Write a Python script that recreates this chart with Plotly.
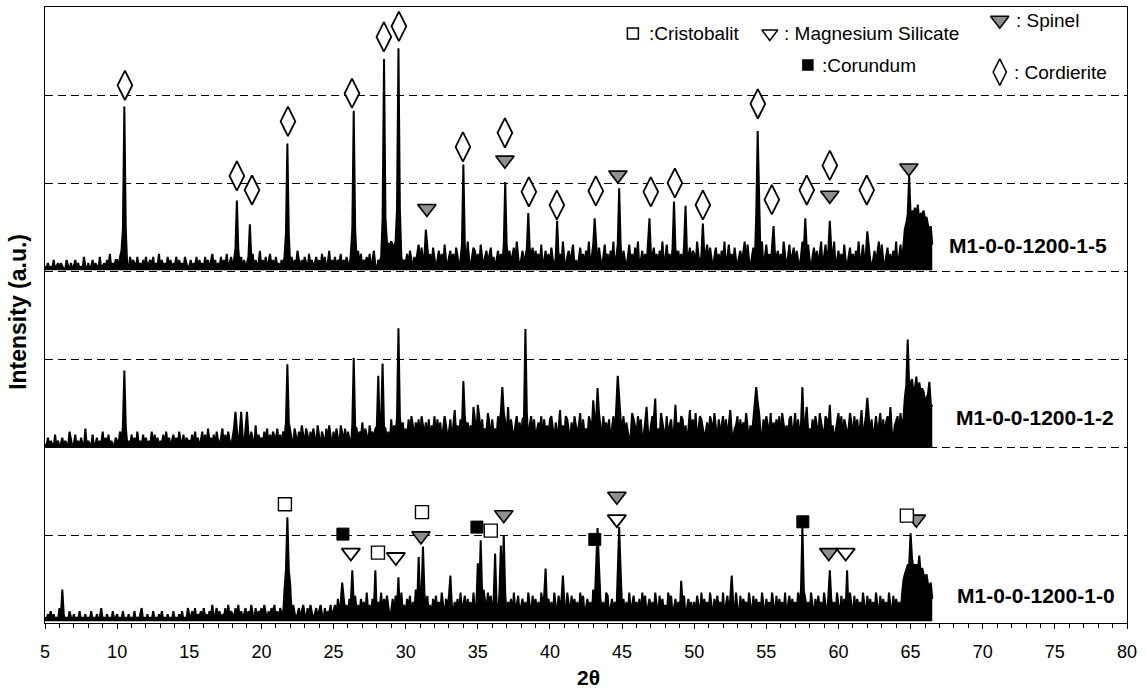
import plotly.graph_objects as go

# ---------------- data ----------------
# 2theta grid step of the noise strings (one character per step), value = base36 digit * NOISE_UNIT
NOISE_STEP = 0.1
NOISE_UNIT = 35

# Trace offsets (a.u.)
offset_top = 4020
offset_mid = 2000
offset_bot = 30

top_noise = {
    5:  "1020103012 0210031020 1302010410 2013021040 1203150213",
    10: "3146302104 1320412031 4023140215 0312041302 1403120420",
    15: "1302140312 0413025130 2140315024 1302614031 2041503126",
    20: "0314025130 4120314025 1403162031 4205130241 3051402613",
    25: "1403250314 2051403615 0324150361 0324158988 9879a0a423",
    30: "2516304258 1730462517 4036251830 4625174036 2519304762",
    35: "5183046257 1403625184 0362571940 3625180472 6351804625",
    40: "1730462519 3046258130 4725163904 6251730482 5163904725",
    45: "1630482517 3904625183 0472516390 4825173046 2518304726",
    50: "5193046258 1730472516 3904825173 0462591830 4725163904",
    55: "8251730462 5193048257 1630492518 3047261590 4825173904",
    60: "6251830472 5163904825 1730462591 8304725163 904829dfhj",
    65: "gjikhlfiijghfce8",
}
mid_noise = {
    5:  "1030210402 0130210520 1402031060 2104013021 5031402103",
    10: "2152403120 4130512041 3021504130 2140513024 1305214032",
    15: "2140513025 1406231405 2136041520 3614052306 1425307142",
    20: "3152604153 2614053172 5306415273 1640526317 4053162740",
    25: "5163074261 5307416253 8164073526 1748306251 9374610583",
    30: "6294a73859 2a64839275 a394826a73 5928c47396 2a58473d92",
    35: "7a49365b82 9463a72958 4d39627a48 3956b27a49 3685a29473",
    40: "9a52846c37 4a95283a64 7b29463a85 2974b63a58 4926a37c49",
    45: "6a38524b97 3a69248d53 7a94263b85 4a27936b48 5a93726c49",
    50: "4b27a96358 3a84b62957 a4938c5267 a39485b627 49a38b5296",
    55: "a74b38596a 2b84739a56 b3947a28d5 6394a72b85 3a96b47258",
    60: "b5a39746b8 2a5947c36a 8b4926a57b 3948a6d527 9a4b69gdji",
    65: "lmijkhlijifghced",
}
bot_noise = {
    5:  "1021302010 41a2010310 2010301020 1030102014 0102010301",
    10: "2010301020 1030102401 0201030102 0301020103 0102030104",
    15: "2031402130 4120315024 1302140513 2041503124 0315204132",
    20: "4152031425 1304215302 4153024135 2041530241 3520413251",
    25: "3517264835 2746183527 4619352748 1639274851 3728461935",
    30: "2748163a52 7469382517 4836295174 8352647193 5827461935",
    35: "8274a63958 2746193a58 2647193582 4736195284 7361958247",
    40: "3619528473 6195284736 1958247361 a582473619 8247361952",
    45: "4726193584 6371958247 3629518473 5196824736 2958147361",
    50: "6285193746 2951738462 9158374629 4183756295 1837462951",
    55: "7463951827 4629158374 6295183746 2951738462 9518374629",
    60: "5183746295 1837462951 8374629518 3746295183 74628dfhii",
    65: "jkhiiglfhfdfcb87",
}

# peaks: (2theta, height above trace baseline, optional neighbour height)
top_peaks = [(10.5, 1850, 450), (18.3, 780, 230), (19.2, 510, 140), (21.8, 1430, 400),
             (26.4, 1800, 450), (28.5, 2390, 570), (29.5, 2510, 680), (31.4, 450, 140),
             (34.0, 1190, 280), (36.9, 990, 280), (38.5, 640, 230), (40.5, 550, 140),
             (43.1, 580, 280), (44.8, 920, 280), (46.9, 580, 170), (48.6, 770, 230),
             (49.4, 720, 170), (50.6, 520, 170), (54.4, 1570, 620), (55.5, 490, 170),
             (57.7, 580, 230), (59.4, 550, 230), (62.0, 430, 170), (64.9, 1060, 620),
             (65.5, 680), (65.9, 660)]
mid_peaks = [(10.5, 870, 230), (18.2, 400, 120), (18.6, 400, 120), (19.0, 400, 120),
             (21.8, 940, 280), (26.4, 1010, 230), (28.1, 810, 230), (28.4, 950, 230),
             (29.5, 1350, 340), (34.0, 750, 170), (35.0, 480), (36.7, 680, 400),
             (38.3, 1340, 340), (40.7, 400), (43.0, 530), (43.3, 670, 300),
             (44.7, 810, 570), (47.3, 550), (48.7, 480), (54.3, 680, 510),
             (57.5, 680, 200), (59.4, 480), (62.0, 560), (64.8, 1220, 700),
             (65.4, 800), (66.3, 740)]
bot_peaks = [(21.8, 1170, 570), (21.6, 350), (22.0, 400), (25.6, 430), (26.3, 570, 200),
             (27.9, 570), (29.5, 490), (30.9, 720), (31.2, 840, 300), (33.1, 510),
             (35.0, 650), (35.2, 910, 300), (36.2, 760), (36.6, 850), (36.8, 970, 300),
             (39.7, 590), (40.9, 510), (43.3, 1050, 620), (44.8, 1060, 570), (49.1, 450),
             (52.6, 510), (57.5, 1060, 340), (59.4, 570), (60.6, 570), (65.0, 990),
             (66.4, 430)]

# phase markers (2theta, y position)
cordierite_theta = [10.54, 18.3, 19.35, 21.84, 26.28, 28.49, 29.53, 33.97, 36.88, 38.54,
                    40.48, 43.18, 46.99, 48.66, 50.6, 54.41, 55.38, 57.8, 59.4, 61.96]
cordierite_y = [6110, 5080, 4920, 5700, 6020, 6660, 6780, 5410, 5570, 4900,
                4750, 4910, 4900, 5000, 4750, 5900, 4810, 4920, 5200, 4920]
spinel_theta = [31.47, 36.88, 44.71, 59.4, 64.88, 31.06, 36.8, 44.64, 59.33, 65.4]
spinel_y = [4710, 5260, 5090, 4860, 5170, 990, 1230, 1440, 800, 1180]
cristobalit_theta = [21.63, 28.08, 31.13, 35.9, 64.74]
cristobalit_y = [1350, 800, 1260, 1050, 1220]
corundum_theta = [25.65, 34.94, 43.11, 57.53]
corundum_y = [1010, 1090, 950, 1150]
mgsi_theta = [26.2, 29.32, 44.64, 60.5]
mgsi_y = [800, 750, 1180, 800]

series_names = ["M1-0-0-1200-1-5", "M1-0-0-1200-1-2", "M1-0-0-1200-1-0"]
x_ticks = [5, 10, 15, 20, 25, 30, 35, 40, 45, 50, 55, 60, 65, 70, 75, 80]

# ---------------- build ----------------
def build(noise, peaks, offset):
    th, val = [], []
    for start in sorted(noise):
        s = noise[start].replace(" ", "")
        for i, c in enumerate(s):
            th.append(round(start + i * NOISE_STEP, 2))
            val.append(int(c, 36) * NOISE_UNIT)
    for p in peaks:
        t, h = p[0], p[1]
        i = min(range(len(th)), key=lambda k: abs(th[k] - t))
        val[i] = max(val[i], h)
        if len(p) > 2:
            for j in (i - 1, i + 1):
                if 0 <= j < len(val):
                    val[j] = max(val[j], p[2])
    return th, [offset + v for v in val]

FONT = "Arial, Liberation Sans, sans-serif"
fig = go.Figure()
for noise, peaks, off in [(top_noise, top_peaks, offset_top),
                          (mid_noise, mid_peaks, offset_mid),
                          (bot_noise, bot_peaks, offset_bot)]:
    x, y = build(noise, peaks, off)
    fig.add_trace(go.Scatter(x=[x[0], x[-1]], y=[off, off], mode="lines",
                             line=dict(color="black", width=2),
                             showlegend=False, hoverinfo="skip"))
    fig.add_trace(go.Scatter(x=x, y=y, mode="lines", line=dict(color="black", width=2),
                             fill="tonexty", fillcolor="black",
                             showlegend=False, hoverinfo="skip"))

def add_markers(xs, ys, symbol, size, fill, lw=1.8):
    fig.add_trace(go.Scatter(x=xs, y=ys, mode="markers", showlegend=False, hoverinfo="skip",
                             marker=dict(symbol=symbol, size=size, color=fill,
                                         line=dict(color="black", width=lw))))

add_markers(cordierite_theta, cordierite_y, "diamond-tall", 21, "white", 1.8)
add_markers(spinel_theta, spinel_y, "triangle-down", 16, "#8e8e8e", 1.6)
add_markers(mgsi_theta, mgsi_y, "triangle-down", 16, "white", 1.8)
add_markers(cristobalit_theta, cristobalit_y, "square", 13, "white", 1.4)
add_markers(corundum_theta, corundum_y, "square", 12, "black", 1)

# legend symbols (decoration, inside the plot area)
legend_items = [
    (45.75, 6700, "square", 11, "white", ":Cristobalit", 46.7),
    (55.24, 6700, "triangle-down", 14, "white", ": Magnesium Silicate", 56.1),
    (71.18, 6850, "triangle-down", 16, "#8e8e8e", ": Spinel", 72.2),
    (57.88, 6340, "square", 10, "black", ":Corundum", 58.7),
    (71.18, 6260, "diamond-tall", 19, "white", ": Cordierite", 72.0),
]
for lx, ly, sym, sz, fill, txt, tx in legend_items:
    add_markers([lx], [ly], sym, sz, fill, 1.5)
    fig.add_annotation(x=tx, y=ly, xref="x", yref="y", text=txt, showarrow=False,
                       xanchor="left", yanchor="middle", font=dict(family=FONT, size=19, color="black"))

label_pos = [(67.5, 4294), (68.0, 2330), (68.06, 318)]
for name, (lx, ly) in zip(series_names, label_pos):
    fig.add_annotation(x=lx, y=ly, xref="x", yref="y", text="<b>" + name + "</b>", showarrow=False,
                       xanchor="left", yanchor="middle", font=dict(family=FONT, size=21, color="black"))

fig.add_annotation(x=-0.025, y=0.505, xref="paper", yref="paper", text="<b>Intensity (a.u.)</b>",
                   textangle=-90, showarrow=False, xanchor="center", yanchor="middle",
                   font=dict(family=FONT, size=23, color="black"))
fig.add_annotation(x=0.502, y=-0.088, xref="paper", yref="paper", text="<b>2θ</b>",
                   showarrow=False, xanchor="center", yanchor="middle",
                   font=dict(family=FONT, size=21, color="black"))

fig.update_xaxes(range=[5, 80], tickvals=x_ticks, ticks="outside", ticklen=5, tickcolor="black",
                 minor=dict(dtick=1, ticks="outside", ticklen=4, tickcolor="black"),
                 showline=True, linecolor="black", linewidth=1.2, mirror=True, showgrid=False,
                 zeroline=False, ticklabelstandoff=7,
                 tickfont=dict(family=FONT, size=18, color="black"))
fig.update_yaxes(range=[0, 7000], dtick=1000, showticklabels=False, ticks="",
                 showline=True, linecolor="black", linewidth=1.2, mirror=True,
                 showgrid=True, gridcolor="black", gridwidth=1.3, griddash="8px,5px",
                 zeroline=False)
fig.update_layout(width=1147, height=692, margin=dict(l=45, r=20, t=7, b=69),
                  paper_bgcolor="white", plot_bgcolor="white")
fig.write_html("out.html")
